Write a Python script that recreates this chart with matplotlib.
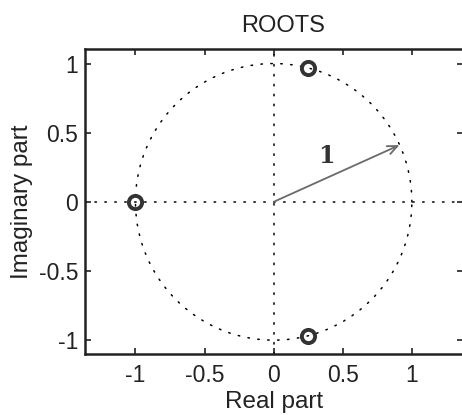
import numpy as np
import matplotlib
matplotlib.use("Agg")
import matplotlib.pyplot as plt

# roots of the polynomial
root_re = [-1.0, 0.25, 0.25]
root_im = [0.0, 0.968, -0.968]

# the "1" radius arrow
arrow_end = (0.91, 0.41)

xticks = [-1, -0.5, 0, 0.5, 1]
yticks = [-1, -0.5, 0, 0.5, 1]

plt.rcParams['font.family'] = ['Liberation Sans', 'DejaVu Sans']

fig = plt.figure(figsize=(4.62, 4.15), dpi=100)
ax = fig.add_axes([85/462, 61/415, 378/462, 305/415])

dots = (0, (1, 5.5))
t = np.linspace(0, 2*np.pi, 400)
ax.plot(np.cos(t), np.sin(t), color='k', lw=1.1, linestyle=dots, dash_capstyle='round')
ax.axhline(0, color='k', lw=1.1, linestyle=dots, dash_capstyle='round')
ax.axvline(0, color='k', lw=1.1, linestyle=dots, dash_capstyle='round')

ax.plot(root_re, root_im, 'o', mfc='none', mec='#333333', mew=2.8, ms=9.5)

ax.annotate('', xy=arrow_end, xytext=(0, 0),
            arrowprops=dict(arrowstyle='->,head_length=0.5,head_width=0.22',
                            color='#6a6a6a', lw=1.3,
                            mutation_scale=14, shrinkA=0, shrinkB=0))
ax.text(0.38, 0.33, '1', fontsize=17, family='DejaVu Serif', weight='bold',
        color='#333333', ha='center', va='center')

ax.set_xlim(-1.365, 1.37)
ax.set_ylim(-1.1, 1.105)
ax.set_xticks(xticks)
ax.set_yticks(yticks)
ax.set_xticklabels(['-1', '-0.5', '0', '0.5', '1'])
ax.set_yticklabels(['-1', '-0.5', '0', '0.5', '1'])
ax.tick_params(direction='in', top=True, right=True, length=4, width=1.2,
               labelsize=16.5, pad=5, colors='#222222')
ax.tick_params(axis='x', pad=7)
for s in ax.spines.values():
    s.set_linewidth(1.8)
    s.set_color('#222222')

ax.set_title('ROOTS', fontsize=17, pad=12, x=0.524, color='#222222')
ax.set_xlabel('Real part', fontsize=17.5, labelpad=3, color='#222222')
ax.set_ylabel('Imaginary part', fontsize=17.5, labelpad=4, color='#222222')

fig.savefig('out.png', dpi=100)
